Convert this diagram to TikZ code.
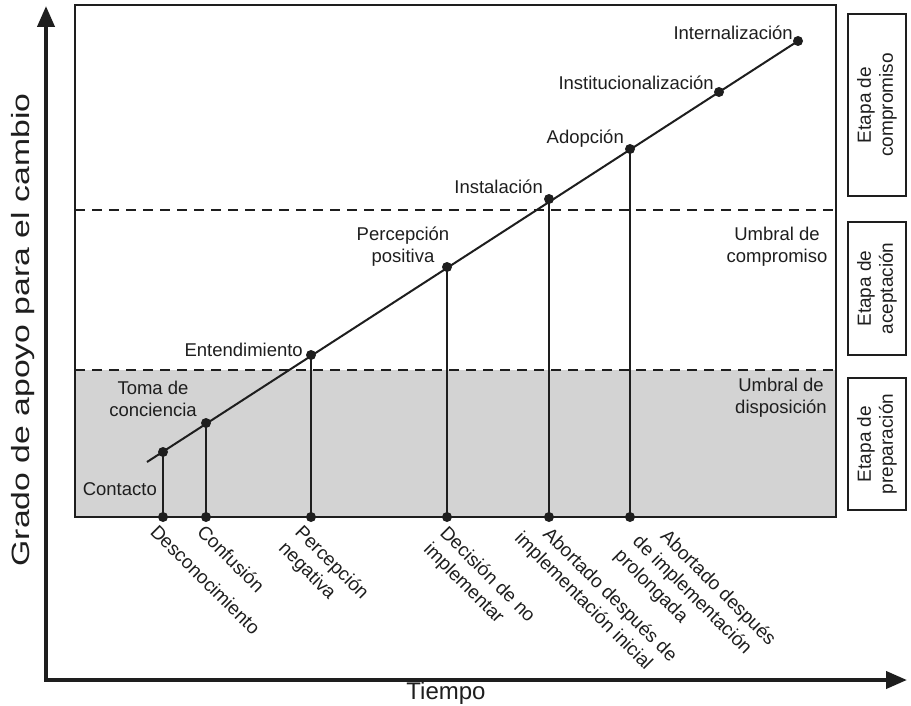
\documentclass[tikz,border=0pt]{standalone}
\usepackage{fontspec}
\setmainfont{Liberation Sans}
\usetikzlibrary{arrows.meta}
\definecolor{ink}{HTML}{1E1E1E}
\definecolor{zonegray}{HTML}{D3D3D3}
\begin{document}
\begin{tikzpicture}[x=1pt,y=-1pt,
  lbl/.style={font=\fontsize{18.5}{22}\selectfont, inner sep=0pt, text=ink},
  blbl/.style={font=\fontsize{19}{23}\selectfont, inner sep=0pt, text=ink, rotate=-45, anchor=north west, align=left},
  dot/.style={circle, fill=ink, inner sep=0pt, minimum size=10pt},
  frameline/.style={draw=ink, line width=1.6pt},
  thr/.style={draw=ink, line width=1.5pt, dash pattern=on 10pt off 7pt},
  curve/.style={draw=ink, line width=2pt},
  axis/.style={draw=ink, line width=4pt, {Triangle[width=17pt,length=21pt]}-{Triangle[width=17pt,length=21pt]}},
  stagebox/.style={draw=ink, line width=1.6pt, rotate=90, align=center, font=\fontsize{19}{22}\selectfont, text=ink, inner sep=0pt}
]
\useasboundingbox (0,0) rectangle (911,706);
% shaded preparation zone
\fill[zonegray] (75,370) rectangle (836,517);
% thresholds
\coordinate (t1l) at (75,210); \coordinate (t1r) at (836,210);
\coordinate (t2l) at (75,370); \coordinate (t2r) at (836,370);
\draw[thr] (t1l) -- (t1r);
\draw[thr] (t2l) -- (t2r);
% frame
\draw[frameline] (75,5) rectangle (836,517);
% axes
\coordinate (ytip) at (46,6);
\coordinate (orig) at (46,680);
\coordinate (xtip) at (907,680);
\draw[axis] (ytip) -- (orig) -- (xtip);
% points on the line
\coordinate (s) at (147,462);
\node[dot] (p1) at (163,452) {};
\node[dot] (p2) at (206,423) {};
\node[dot] (p3) at (311,355) {};
\node[dot] (p4) at (447,267) {};
\node[dot] (p5) at (549,199) {};
\node[dot] (p6) at (630,149) {};
\node[dot] (p7) at (719,92) {};
\node[dot] (p8) at (798,41) {};
% bottom points
\node[dot] (b1) at (163,517) {};
\node[dot] (b2) at (206,517) {};
\node[dot] (b3) at (311,517) {};
\node[dot] (b4) at (447,517) {};
\node[dot] (b5) at (549,517) {};
\node[dot] (b6) at (630,517) {};
\draw[curve] (s) -- (p8.center);
\draw[curve] (p1.center) -- (b1.center);
\draw[curve] (p2.center) -- (b2.center);
\draw[curve] (p3.center) -- (b3.center);
\draw[curve] (p4.center) -- (b4.center);
\draw[curve] (p5.center) -- (b5.center);
\draw[curve] (p6.center) -- (b6.center);
% labels along the line
\node[lbl, anchor=east] (l1) at (157,489) {Contacto};
\node[lbl, align=center] (l2) at (153,399) {Toma de\\conciencia};
\node[lbl, anchor=east] (l3) at (303,350) {Entendimiento};
\node[lbl, align=center] (l4) at (403,247) {Percepción\\positiva};
\node[lbl, anchor=east] (l5) at (543,187) {Instalación};
\node[lbl, anchor=east] (l6) at (624,139) {Adopción};
\node[lbl, anchor=east] (l7) at (714,83) {Institucionalización};
\node[lbl, anchor=east] (l8) at (793,33) {Internalización};
% thresholds labels
\node[lbl, align=center] (u1) at (777,247) {Umbral de\\compromiso};
\node[lbl, align=center] (u2) at (781,398) {Umbral de\\disposición};
% bottom labels
\node[blbl] (d1) at (159,523) {Desconocimiento};
\node[blbl] (d2) at (206,523) {Confusión};
\node[blbl] (d3) at (304,523) {Percepción\\negativa};
\node[blbl] (d4) at (449,524) {Decisión de no\\implementar};
\node[blbl] (d5) at (540,513) {\hspace*{17pt}Abortado después de\\implementación inicial};
\node[blbl] (d6) at (656,514) {\hspace*{19pt}Abortado después\\\hspace*{3pt}de implementación\\prolongada};
% stage boxes
\node[stagebox, minimum width=182pt, minimum height=58pt] (e1) at (877,105) {Etapa de\\compromiso};
\node[stagebox, minimum width=133pt, minimum height=58pt] (e2) at (877,288.5) {Etapa de\\aceptación};
\node[stagebox, minimum width=132pt, minimum height=58pt] (e3) at (877,444) {Etapa de\\preparación};
% axis labels
\node[font=\fontsize{25}{30}\selectfont, text=ink, rotate=90, inner sep=0pt] (ylab) at (23,330) {\scalebox{1.35}[1]{Grado de apoyo para el cambio}};
\node[font=\fontsize{24}{28}\selectfont, text=ink, inner sep=0pt, anchor=base] (xlab) at (446,699) {Tiempo};
\end{tikzpicture}
\end{document}
